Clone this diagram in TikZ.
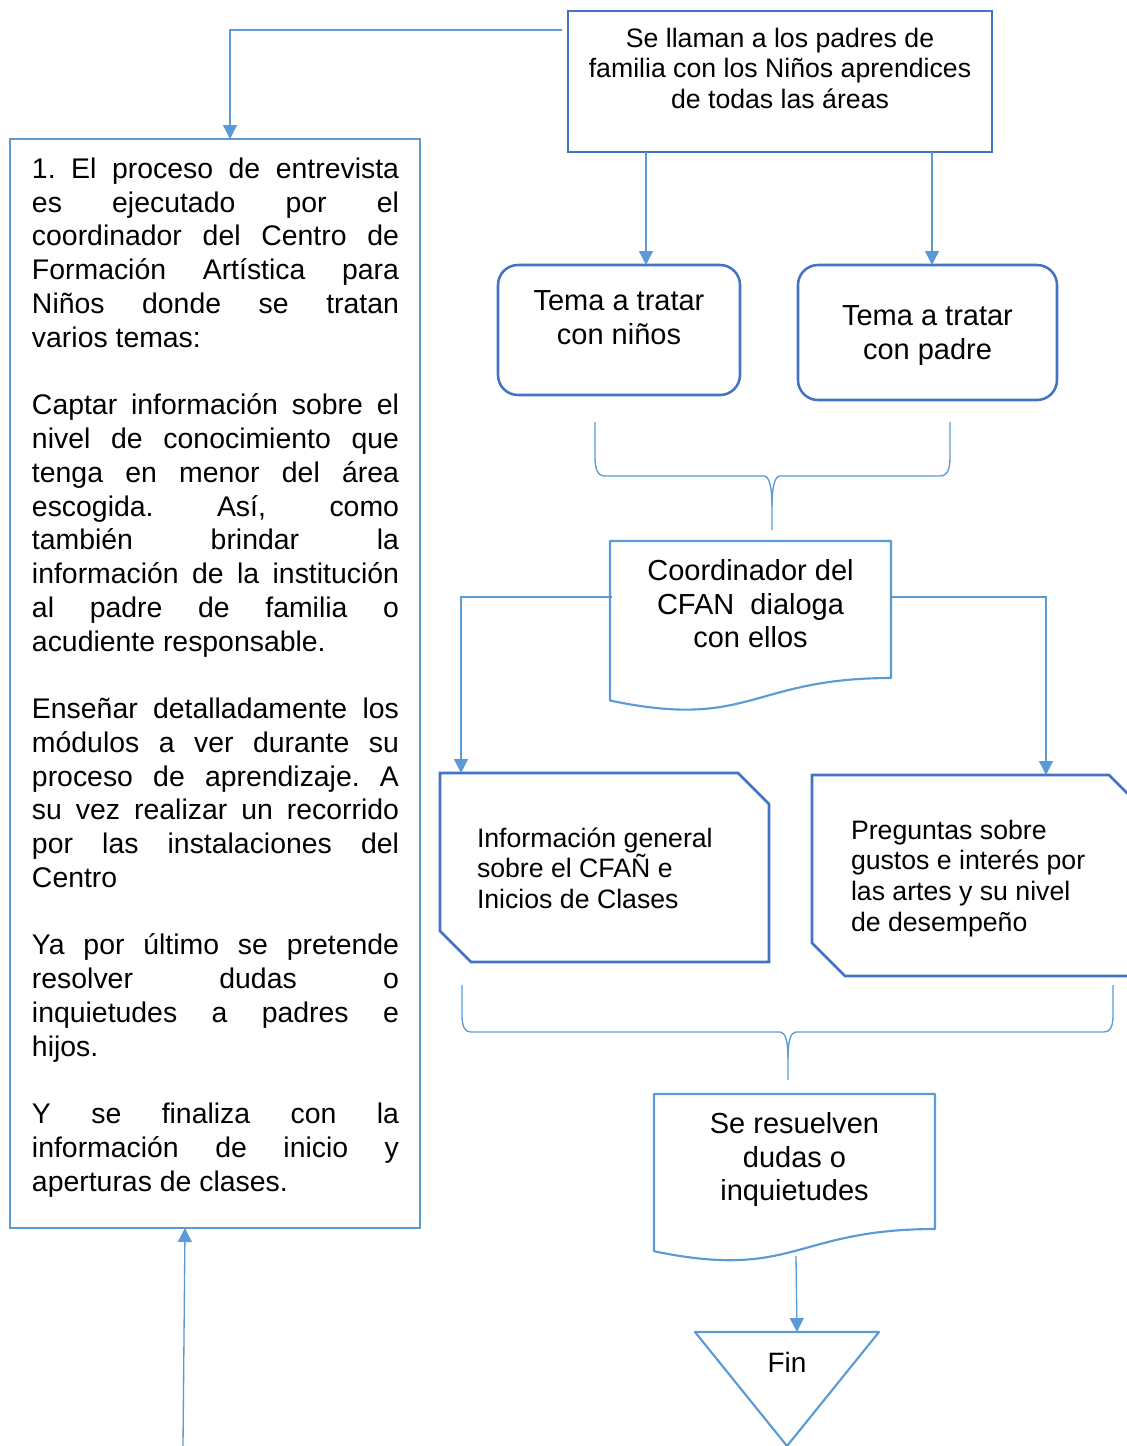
\documentclass[tikz,border=0pt]{standalone}
\usepackage{fontspec}
\setmainfont{Liberation Sans}
\usetikzlibrary{arrows.meta,calc}

\definecolor{edgeblue}{RGB}{91,155,213}
\definecolor{frameblue}{RGB}{68,114,196}

% box text: #1 height, #2 width, #3 first baseline from top, #4 alignment, #5 text
\newcommand{\boxtxt}[5]{\parbox[c][#1][t]{#2}{#4\vspace*{\dimexpr#3-1em\relax}\rule{0pt}{1em}#5}}
% one fully justified line of the long description
\newcommand{\jline}[1]{\makebox[275.25pt][s]{#1}}

\begin{document}
\frenchspacing
\begin{tikzpicture}[x=0.75pt,y=-0.75pt,
  shapebox/.style={inner sep=0pt, outer sep=0pt},
  conn/.style={draw=edgeblue, line width=1pt, -{Triangle[length=10.5pt,width=10.5pt]}},
  brace/.style={draw=edgeblue, line width=1pt},
  docline/.style={draw=edgeblue, line width=1.6pt, line join=round},
  cardline/.style={draw=frameblue, line width=1.9pt, line join=miter},
  smallfont/.style={font=\fontsize{20}{23}\selectfont},
  bigfont/.style={font=\fontsize{21.75}{25.1}\selectfont}]

\useasboundingbox (0,0) rectangle (1127,1446);
\clip (0,0) rectangle (1127,1446);

% top box
\node[shapebox, draw=frameblue, line width=1.9pt, smallfont] (top) at (780,81.5)
  {\boxtxt{105.75pt}{318pt}{27.2pt}{\centering}{Se llaman a los padres de\\familia con los Niños aprendices\\de todas las áreas}};

% long description on the left
\node[shapebox, draw=edgeblue, line width=1.6pt, font=\fontsize{21.3}{25.32}\selectfont] (proc) at (215,683.5)
  {\boxtxt{816.75pt}{307.5pt}{29.6pt}{\raggedright\leftskip=16.5pt}{%
  \jline{1. El proceso de entrevista}\\
  \jline{es ejecutado por el}\\
  \jline{coordinador del Centro de}\\
  \jline{Formación Artística para}\\
  \jline{Niños donde se tratan}\\
  varios temas:\\[25.32pt]
  \jline{Captar información sobre el}\\
  \jline{nivel de conocimiento que}\\
  \jline{tenga en menor del área}\\
  \jline{escogida. Así, como}\\
  \jline{también brindar la}\\
  \jline{información de la institución}\\
  \jline{al padre de familia o}\\
  acudiente responsable.\\[25.32pt]
  \jline{Enseñar detalladamente los}\\
  \jline{módulos a ver durante su}\\
  \jline{proceso de aprendizaje. A}\\
  \jline{su vez realizar un recorrido}\\
  \jline{por las instalaciones del}\\
  Centro\\[25.32pt]
  \jline{Ya por último se pretende}\\
  \jline{resolver dudas o}\\
  \jline{inquietudes a padres e}\\
  hijos.\\[25.32pt]
  \jline{Y se finaliza con la}\\
  \jline{información de inicio y}\\
  aperturas de clases.}};

% rounded topic boxes
\node[shapebox, draw=frameblue, line width=1.9pt, rounded corners=15pt, bigfont] (ninos) at (619,330)
  {\boxtxt{97.5pt}{181.5pt}{34.3pt}{\centering}{Tema a tratar\\con niños}};
\node[shapebox, draw=frameblue, line width=1.9pt, rounded corners=15pt, bigfont] (padre) at (927.5,332.5)
  {\boxtxt{101.25pt}{194.25pt}{45.5pt}{\centering}{Tema a tratar\\con padre}};

% coordinator document
\node[shapebox, bigfont] (coord) at (750.5,626.4)
  {\boxtxt{128.1pt}{210.75pt}{29.8pt}{\centering}{Coordinador del\\CFAN~ dialoga\\con ellos}};
\draw[docline] (coord.north west) -- (coord.north east) -- ($(coord.north east)+(0,137)$)
  .. controls ($(coord.north)+(0,137)$) and ($(coord.north)+(0,189.2)$) .. ($(coord.north west)+(0,159.5)$) -- cycle;

% snipped cards
\node[shapebox, smallfont] (info) at (604.5,867.5)
  {\boxtxt{141.75pt}{246.75pt}{55.5pt}{\raggedright\leftskip=27.75pt}{Información general\\sobre el CFAÑ e\\Inicios de Clases}};
\draw[cardline] (info.north west) -- ($(info.north east)+(-31,0)$) -- ($(info.north east)+(0,31)$)
  -- (info.south east) -- ($(info.south west)+(31,0)$) -- ($(info.south west)+(0,-31)$) -- cycle;

\node[shapebox, smallfont] (preg) at (977,875.5)
  {\boxtxt{150.75pt}{247.5pt}{48.2pt}{\raggedright\leftskip=29.25pt}{Preguntas sobre\\gustos e interés por\\las artes y su nivel\\de desempeño}};
\draw[cardline] (preg.north west) -- ($(preg.north east)+(-33,0)$) -- ($(preg.north east)+(0,33)$)
  -- (preg.south east) -- ($(preg.south west)+(33,0)$) -- ($(preg.south west)+(0,-33)$) -- cycle;

% answers document
\node[shapebox, bigfont] (resuel) at (794.5,1178.15)
  {\boxtxt{126.2pt}{210.75pt}{29.8pt}{\centering}{Se resuelven\\dudas o\\inquietudes}};
\draw[docline] (resuel.north west) -- (resuel.north east) -- ($(resuel.north east)+(0,135)$)
  .. controls ($(resuel.north)+(0,135)$) and ($(resuel.north)+(0,186.4)$) .. ($(resuel.north west)+(0,157.2)$) -- cycle;

% end triangle
\node[shapebox, font=\fontsize{21}{25}\selectfont] (fin) at (787,1389)
  {\boxtxt{85.5pt}{138pt}{30pt}{\centering}{Fin}};
\draw[docline] (fin.north west) -- (fin.north east) -- (fin.south) -- cycle;

% braces gathering the topics
\draw[brace] (595,422) -- (595,457) .. controls (595,470) and (598,476) .. (605,476) -- (764,476)
  .. controls (769,476) and (772,486) .. (772,506) -- (772,530);
\draw[brace] (772,506) .. controls (772,486) and (775,476) .. (780,476) -- (940,476)
  .. controls (947,476) and (950,470) .. (950,457) -- (950,422);

\draw[brace] (462,985) -- (462,1015) .. controls (462,1027) and (465,1032) .. (471,1032) -- (780,1032)
  .. controls (785,1032) and (788,1040) .. (788,1058) -- (788,1080);
\draw[brace] (788,1058) .. controls (788,1040) and (791,1032) .. (796,1032) -- (1104,1032)
  .. controls (1110,1032) and (1113,1027) .. (1113,1015) -- (1113,985);

% connectors
\draw[conn] ($(top.north west)+(-6,19)$) -| ($(proc.north)+(15,0)$);
\draw[conn] ($(top.south)+(-134,0)$) -- ($(ninos.north)+(27,0)$);
\draw[conn] ($(top.south)+(152,0)$) -- ($(padre.north)+(4.5,0)$);
\draw[conn] ($(coord.north west)+(2,56)$) -| ($(info.north west)+(21,0)$);
\draw[conn] ($(coord.north east)+(0,56)$) -| ($(preg.north west)+(234,0)$);
\draw[conn] ($(resuel.north)+(1.5,162)$) -- ($(fin.north)+(10,0)$);
\coordinate (loopin) at (183,1446);
\draw[conn] (loopin) -- ($(proc.south)+(-30,0)$);

\end{tikzpicture}
\end{document}
